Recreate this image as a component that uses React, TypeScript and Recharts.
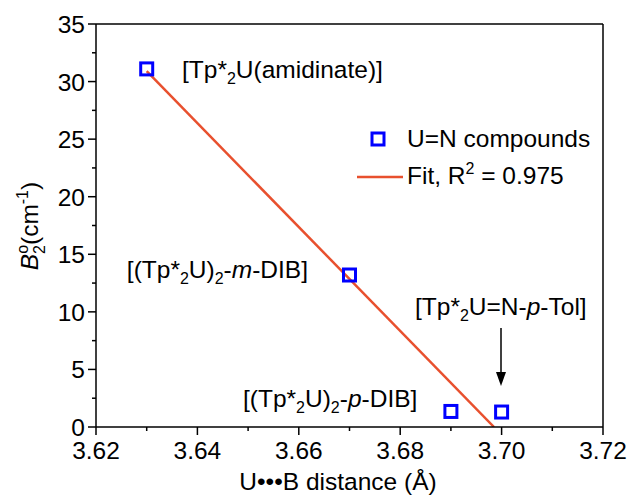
import { ComposedChart, Scatter, Line, XAxis, YAxis, ReferenceLine, Customized } from 'recharts';

const distances = [3.63, 3.67, 3.69, 3.7];
const b2Values = [31.1, 13.2, 1.35, 1.3];
const fitX = [3.63, 3.6985];
const fitY = [30.9, 0];
const xTicks = [3.62, 3.63, 3.64, 3.65, 3.66, 3.67, 3.68, 3.69, 3.7, 3.71, 3.72];
const yTicks = [0, 2.5, 5, 7.5, 10, 12.5, 15, 17.5, 20, 22.5, 25, 27.5, 30, 32.5, 35];

const points = distances.map((x, i) => ({ x, y: b2Values[i] }));
const fitLine = fitX.map((x, i) => ({ x, y: fitY[i] }));

const FONT = 'Arial, "Liberation Sans", sans-serif';
const FS = 24.5;
const SUB = 16;
const BLUE = '#0000ff';
const RED = '#e8502e';

const XTick = (props: any) => {
  const { x, y, payload, index } = props;
  const major = index % 2 === 0;
  return (
    <g>
      <line x1={x} x2={x} y1={y} y2={y + (major ? 8 : 4)} stroke="#000" strokeWidth={1.5} />
      {major && (
        <text x={x} y={y + 32} textAnchor="middle" fontSize={FS} fontFamily={FONT} fill="#000">
          {payload.value.toFixed(2)}
        </text>
      )}
    </g>
  );
};

const YTick = (props: any) => {
  const { x, y, payload, index } = props;
  const major = index % 2 === 0;
  return (
    <g>
      <line x1={x} x2={x - (major ? 8 : 4)} y1={y} y2={y} stroke="#000" strokeWidth={1.5} />
      {major && (
        <text x={x - 11} y={y + 9} textAnchor="end" fontSize={FS} fontFamily={FONT} fill="#000">
          {payload.value}
        </text>
      )}
    </g>
  );
};

const OpenSquare = (props: any) => {
  const { cx, cy } = props;
  return <rect x={cx - 6} y={cy - 6} width={12} height={12} fill="none" stroke={BLUE} strokeWidth={3} />;
};

const Annotations = () => (
  <g fontFamily={FONT} fontSize={FS} fill="#000">
    <text x={182} y={78}>
      [Tp*<tspan dy={6} fontSize={SUB}>2</tspan>
      <tspan dy={-6}>U(amidinate)]</tspan>
    </text>
    <text x={308} y={278} textAnchor="end">
      [(Tp*<tspan dy={6} fontSize={SUB}>2</tspan>
      <tspan dy={-6}>U)</tspan>
      <tspan dy={6} fontSize={SUB}>2</tspan>
      <tspan dy={-6}>-</tspan>
      <tspan fontStyle="italic">m</tspan>
      <tspan>-DIB]</tspan>
    </text>
    <text x={415} y={315}>
      [Tp*<tspan dy={6} fontSize={SUB}>2</tspan>
      <tspan dy={-6}>U=N-</tspan>
      <tspan fontStyle="italic">p</tspan>
      <tspan>-Tol]</tspan>
    </text>
    <text x={243} y={407}>
      [(Tp*<tspan dy={6} fontSize={SUB}>2</tspan>
      <tspan dy={-6}>U)</tspan>
      <tspan dy={6} fontSize={SUB}>2</tspan>
      <tspan dy={-6}>-</tspan>
      <tspan fontStyle="italic">p</tspan>
      <tspan>-DIB]</tspan>
    </text>
    <line x1={501} x2={501} y1={328} y2={375} stroke="#000" strokeWidth={1.5} />
    <path d="M496,372 L506,372 L501,386 Z" fill="#000" />

    {/* legend */}
    <rect x={372} y={133} width={12} height={12} fill="none" stroke={BLUE} strokeWidth={3} />
    <text x={407} y={147}>U=N compounds</text>
    <line x1={357} x2={403} y1={177} y2={177} stroke={RED} strokeWidth={2.5} />
    <text x={407} y={184}>
      Fit, R<tspan dy={-10} fontSize={SUB}>2</tspan>
      <tspan dy={10}> = 0.975</tspan>
    </text>

    {/* axis titles */}
    <text x={338} y={490} textAnchor="middle">U•••B distance (Å)</text>
    <text transform="translate(38,226) rotate(-90)" textAnchor="middle">
      <tspan fontStyle="italic">B</tspan>
      <tspan dy={-10} fontSize={SUB}>o</tspan>
      <tspan dx={-9} dy={17} fontSize={SUB}>2</tspan>
      <tspan dy={-7}>(cm</tspan>
      <tspan dy={-10} fontSize={SUB}>-1</tspan>
      <tspan dy={10}>)</tspan>
    </text>
  </g>
);

export default function App() {
  return (
    <div style={{ position: 'absolute', left: 0, top: 0, width: 630, height: 498, background: '#fff' }}>
      <ComposedChart width={630} height={498} margin={{ top: 24, right: 27, bottom: 0, left: 0 }}>
        <XAxis
          dataKey="x"
          type="number"
          domain={[3.62, 3.72]}
          ticks={xTicks}
          interval={0}
          height={71}
          tickSize={0}
          tickMargin={0}
          tickLine={false}
          tick={<XTick />}
          axisLine={{ stroke: '#000', strokeWidth: 1.5 }}
          allowDataOverflow
        />
        <YAxis
          dataKey="y"
          type="number"
          domain={[0, 35]}
          ticks={yTicks}
          interval={0}
          width={96}
          tickSize={0}
          tickMargin={0}
          tickLine={false}
          tick={<YTick />}
          axisLine={{ stroke: '#000', strokeWidth: 1.5 }}
          allowDataOverflow
        />
        <ReferenceLine y={35} stroke="#000" strokeWidth={1.5} />
        <ReferenceLine x={3.72} stroke="#000" strokeWidth={1.5} />
        <Line
          data={fitLine}
          dataKey="y"
          type="linear"
          stroke={RED}
          strokeWidth={2.5}
          dot={false}
          activeDot={false}
          isAnimationActive={false}
        />
        <Scatter data={points} dataKey="y" shape={<OpenSquare />} isAnimationActive={false} />
        <Customized component={<Annotations />} />
      </ComposedChart>
    </div>
  );
}
